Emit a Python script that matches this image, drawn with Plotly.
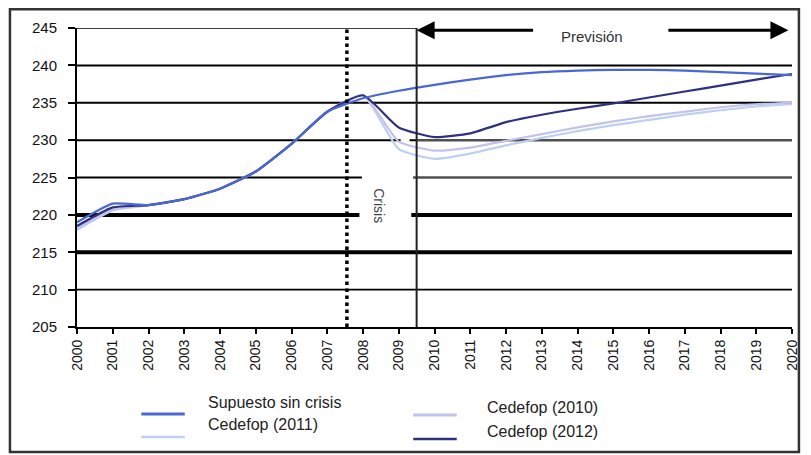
import plotly.graph_objects as go

# ---------------- data ----------------
years = list(range(2000, 2021))
year_labels = [str(y) for y in years]
y_ticks = [205, 210, 215, 220, 225, 230, 235, 240, 245]

supuesto_sin_crisis = [219.0, 221.5, 221.3, 222.1, 223.5, 225.8, 229.5, 233.8, 235.6, 236.6,
                       237.4, 238.1, 238.7, 239.1, 239.3, 239.4, 239.4, 239.3, 239.1, 238.9, 238.7]
cedefop_2011 = [218.0, 220.6, 221.3, 222.1, 223.5, 225.8, 229.5, 233.8, 236.0, 228.8,
                227.5, 228.2, 229.3, 230.3, 231.2, 232.0, 232.7, 233.4, 234.0, 234.5, 234.8]
cedefop_2010 = [218.2, 220.7, 221.3, 222.1, 223.5, 225.8, 229.5, 233.8, 236.0, 229.8,
                228.6, 229.0, 229.9, 230.8, 231.7, 232.5, 233.2, 233.8, 234.4, 234.8, 235.0]
cedefop_2012 = [218.5, 221.0, 221.3, 222.1, 223.5, 225.8, 229.5, 233.8, 236.0, 231.7,
                230.4, 230.9, 232.4, 233.4, 234.2, 234.9, 235.7, 236.5, 237.3, 238.1, 238.85]

series_names = ["Supuesto sin crisis", "Cedefop (2011)", "Cedefop (2010)", "Cedefop (2012)"]
crisis_start = 2007.55
forecast_start = 2009.5

# ---------------- styles ----------------
colors = {
    "Supuesto sin crisis": "#4a68d2",
    "Cedefop (2011)": "#bcd0f2",
    "Cedefop (2010)": "#c2c2ec",
    "Cedefop (2012)": "#2f3080",
}
values = {
    "Supuesto sin crisis": supuesto_sin_crisis,
    "Cedefop (2011)": cedefop_2011,
    "Cedefop (2010)": cedefop_2010,
    "Cedefop (2012)": cedefop_2012,
}

fig = go.Figure()
for name in ["Cedefop (2011)", "Cedefop (2010)", "Cedefop (2012)", "Supuesto sin crisis"]:
    fig.add_trace(go.Scatter(x=years, y=values[name], mode="lines", name=name,
                             line=dict(color=colors[name], width=2.2, shape="spline", smoothing=0.5),
                             showlegend=False))

x0, x1 = years[0], years[-1]
shapes = []

def hline(y, xa, xb, width, color="#000000", dash="solid"):
    shapes.append(dict(type="line", xref="x", yref="y", x0=xa, x1=xb, y0=y, y1=y,
                       line=dict(color=color, width=width, dash=dash), layer="below"))

# grid lines (varied weights, with a gap for the "Crisis" label)
hline(y_ticks[8], x0, forecast_start, 1.6)
hline(y_ticks[7], x0, x1, 2)
hline(y_ticks[6], x0, x1, 2)
hline(y_ticks[5], x0, 2008.8, 2)
hline(y_ticks[5], 2008.8, forecast_start, 2, dash="dash")
hline(y_ticks[5], forecast_start, x1, 2.5, color="#505050")
hline(y_ticks[4], x0, 2007.97, 2)
hline(y_ticks[4], 2009.4, x1, 2.5, color="#505050")
hline(y_ticks[3], x0, 2007.9, 4)
hline(y_ticks[3], 2009.35, x1, 4)
hline(y_ticks[2], x0, x1, 4)
hline(y_ticks[1], x0, x1, 1.6)

# vertical markers
shapes.append(dict(type="line", xref="x", yref="y", x0=crisis_start, x1=crisis_start,
                   y0=y_ticks[0], y1=y_ticks[-1], line=dict(color="#000", width=3.5, dash="dot")))
shapes.append(dict(type="line", xref="x", yref="y", x0=forecast_start, x1=forecast_start,
                   y0=y_ticks[0], y1=y_ticks[-1], line=dict(color="#222", width=2)))

# page-pixel -> paper conversion (plot area spans x 77..800, y 28..327 on the page)
def px2paper_x(px):
    return (px - 77) / 723.0

def px2paper_y(py):
    return (327 - py) / 299.0

# outer frame
shapes.append(dict(type="rect", xref="paper", yref="paper",
                   x0=px2paper_x(9.2), x1=px2paper_x(807), y0=px2paper_y(452), y1=px2paper_y(9.2),
                   line=dict(color="#333", width=2.5), fillcolor="rgba(0,0,0,0)"))

annotations = []
# Previsión arrows
annotations.append(dict(x=forecast_start, y=244.7, ax=2012.8, ay=244.7, xref="x", yref="y",
                        axref="x", ayref="y", text="", showarrow=True, arrowhead=2,
                        arrowsize=1.2, arrowwidth=3, arrowcolor="#000"))
annotations.append(dict(x=2019.9, y=244.7, ax=2016.5, ay=244.7, xref="x", yref="y",
                        axref="x", ayref="y", text="", showarrow=True, arrowhead=2,
                        arrowsize=1.2, arrowwidth=3, arrowcolor="#000"))
annotations.append(dict(x=2014.4, y=243.8, xref="x", yref="y", text="Previsión", showarrow=False,
                        font=dict(family="Liberation Sans, Arial", size=15, color="#333")))
annotations.append(dict(x=2008.44, y=221.2, xref="x", yref="y", text="Crisis", showarrow=False,
                        textangle=90, font=dict(family="Liberation Sans, Arial", size=14, color="#444")))

# manual legend
legend_layout = [
    ("Supuesto sin crisis", 142, 186, 414, 207, 402, 3),
    ("Cedefop (2011)", 142, 186, 437, 207, 424, 2.5),
    ("Cedefop (2010)", 417, 461, 415, 490, 407, 3),
    ("Cedefop (2012)", 417, 461, 439, 490, 431, 2.5),
]
for name, lx0, lx1, ly, tx, ty, w in legend_layout:
    shapes.append(dict(type="line", xref="paper", yref="paper",
                       x0=px2paper_x(lx0), x1=px2paper_x(lx1), y0=px2paper_y(ly), y1=px2paper_y(ly),
                       line=dict(color=colors[name], width=w)))
    annotations.append(dict(x=px2paper_x(tx), y=px2paper_y(ty), xref="paper", yref="paper",
                            text=name, showarrow=False, xanchor="left", yanchor="middle",
                            font=dict(family="Liberation Sans, Arial", size=16, color="#222")))

# the page body has an 8px margin, so the figure is 8px smaller and margins shifted by 8px
fig.update_layout(
    width=803, height=447,
    margin=dict(l=69, r=11, t=20, b=128),
    paper_bgcolor="white", plot_bgcolor="white",
    shapes=shapes, annotations=annotations,
    showlegend=False,
    font=dict(family="Liberation Sans, Arial", color="#111"),
)
fig.update_xaxes(range=[x0, x1], tickmode="array", tickvals=years, ticktext=year_labels,
                 tickangle=-90, ticks="outside", ticklen=5, tickwidth=1.5, tickcolor="#000",
                 showline=True, linecolor="#000", linewidth=2, showgrid=False, zeroline=False,
                 tickfont=dict(size=14, color="#111", family="Liberation Sans, Arial"))
fig.update_yaxes(range=[y_ticks[0], y_ticks[-1]], tickmode="array", tickvals=y_ticks,
                 ticks="outside", ticklen=7, tickwidth=1.5, tickcolor="#000",
                 showline=True, linecolor="#000", linewidth=2, showgrid=False, zeroline=False,
                 ticklabelstandoff=8,
                 tickfont=dict(size=15, color="#111", family="Liberation Sans, Arial"))

fig.write_html("out.html")
